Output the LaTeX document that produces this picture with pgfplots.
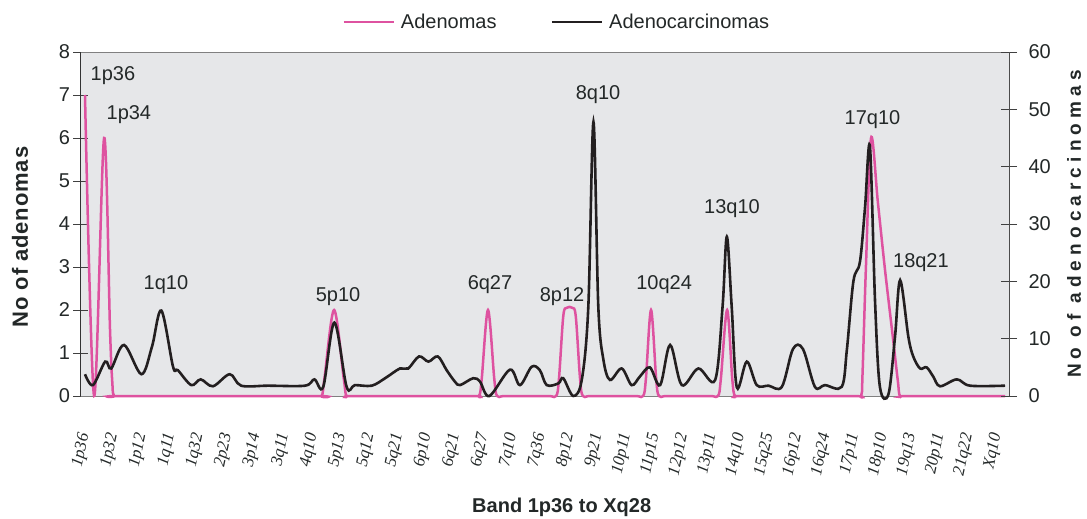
\documentclass[border=0pt]{standalone}
\usepackage{pgfplots}
\pgfplotsset{compat=1.18}
\usepackage{fontspec}
\setmainfont{Liberation Sans}
\newfontfamily\serifit{Liberation Serif}
\definecolor{pinkc}{RGB}{222,82,160}
\definecolor{blk}{RGB}{35,31,32}
\definecolor{bgc}{RGB}{230,231,233}
\definecolor{txt}{RGB}{35,40,40}

\pgfplotstableread{
x y
0 7
0.32 0
0.67 6
0.88 1.5
0.96 0.3
1.02 0
1.32 0
8.00 0
8.30 0
8.40 0.4
8.74 2
9.08 0.4
9.18 0
9.48 0
13.52 0
13.82 0
13.92 0.4
14.14 2
14.36 0.4
14.46 0
14.76 0
16.23 0
16.53 0
16.63 0.4
16.78 1.85
16.90 2.05
17.10 2.05
17.22 1.85
17.37 0.4
17.47 0
17.77 0
19.28 0
19.58 0
19.68 0.4
19.86 2
20.04 0.4
20.14 0
20.44 0
21.91 0
22.21 0
22.31 0.4
22.53 2
22.71 0.4
22.81 0
23.11 0
26.93 0
27.23 0
27.28 0.5
27.40 3
27.58 6
27.82 4.5
28.07 2.93
28.33 1.45
28.52 0.35
28.60 0
28.90 0
32.28 0
}\adenomas

\pgfplotstableread{
x y
0 3.8
0.28 1.9
0.71 6.0
0.92 4.8
1.37 8.9
1.98 3.8
2.35 8.6
2.68 14.9
3.09 5.1
3.26 4.5
3.73 1.9
4.06 2.9
4.49 1.7
5.08 3.8
5.48 1.8
6.42 1.8
7.72 1.8
8.05 2.9
8.36 1.6
8.75 12.8
9.18 1.6
9.47 1.9
10.06 1.8
10.53 3.1
11.05 4.8
11.34 4.8
11.72 6.9
12.05 6.0
12.38 6.9
12.69 4.5
12.98 2.5
13.16 1.9
13.62 3.1
13.86 2.5
14.19 0
14.91 4.6
15.26 1.9
15.67 5.1
15.96 4.5
16.20 1.9
16.61 2.2
16.78 3.1
17.13 0
17.43 2.8
17.66 15.6
17.84 47.8
18.01 15.6
18.19 6.3
18.42 2.8
18.83 4.8
19.18 1.9
19.47 3.4
19.82 5.0
20.18 1.9
20.53 8.9
20.94 1.9
21.52 4.8
22.11 2.8
22.37 15.6
22.52 27.8
22.69 15.6
22.87 1.5
23.22 6.0
23.57 1.9
23.98 1.8
24.45 1.6
24.84 8.2
25.19 8.2
25.61 1.6
25.96 1.9
26.55 1.6
26.73 8.0
26.96 20.0
27.19 23.4
27.37 33.0
27.54 43.5
27.72 16.5
27.89 1.6
28.19 0.3
28.42 10.3
28.60 20.2
28.89 10.3
29.06 6.9
29.30 4.8
29.53 5.0
29.76 3.4
30.00 1.7
30.59 2.9
31.05 1.8
32.28 1.8
}\adenocarcinomas

\begin{document}
\begin{tikzpicture}
\useasboundingbox (-81pt,-123pt) rectangle (1006pt,396pt);
\begin{axis}[
  at={(0pt,0pt)}, anchor=south west,
  scale only axis, width=928pt, height=344pt,
  xmin=-0.14, xmax=32.42, ymin=0, ymax=8,
  clip=false,
  axis x line*=box, axis y line*=left,
  axis background/.style={fill=bgc},
  x axis line style={draw=black!50, line width=1pt},
  y axis line style={draw=black!80, line width=1pt},
  xtick={0,...,32},
  xticklabels={1p36,1p32,1p12,1q11,1q32,2p23,3p14,3q11,4q10,5p13,5q12,5q21,6p10,6q21,6q27,7q10,7q36,8p12,9p21,10p11,11p15,12p12,13p11,14q10,15q25,16p12,16q24,17p11,18p10,19q13,20p11,21q22,Xq10},
  xtick style={draw=none},
  xticklabel style={font=\serifit\itshape\fontsize{17}{17}\selectfont, text=txt, yshift=-30pt, rotate=78, anchor=east, inner sep=0pt},
  ytick={0,...,8},
  ytick style={draw=black!75, line width=0.8pt},
  tick align=center, major tick length=15pt,
  yticklabel style={font=\fontsize{20}{20}\selectfont, text=txt},
  /pgf/number format/assume math mode=true,
  xlabel={Band 1p36 to Xq28},
  xlabel style={at={(axis description cs:0.518,-0.323)}, anchor=center, font=\bfseries\fontsize{20}{20}\selectfont, text=txt},
  ylabel={No of adenomas},
  ylabel style={at={(axis description cs:-0.0657,0.462)}, anchor=center, font=\bfseries\fontsize{22}{22}\selectfont\addfontfeature{LetterSpace=4}, text=txt},
]
\addplot[pinkc, line width=2.5pt, smooth, tension=0.55] table[x=x,y=y] {\adenomas};
\tikzset{ann/.style={font=\fontsize{20}{20}\selectfont, text=txt, inner sep=0pt}}
\node[ann] at (axis cs:0.98,7.45) {1p36};
\node[ann] at (axis cs:1.54,6.55) {1p34};
\node[ann] at (axis cs:2.84,2.6) {1q10};
\node[ann] at (axis cs:8.88,2.32) {5p10};
\node[ann] at (axis cs:14.21,2.6) {6q27};
\node[ann] at (axis cs:16.74,2.32) {8p12};
\node[ann] at (axis cs:18.0,7.0) {8q10};
\node[ann] at (axis cs:20.32,2.58) {10q24};
\node[ann] at (axis cs:22.70,4.35) {13q10};
\node[ann] at (axis cs:27.63,6.42) {17q10};
\node[ann] at (axis cs:29.33,3.11) {18q21};
\end{axis}
\begin{axis}[
  at={(0pt,0pt)}, anchor=south west,
  scale only axis, width=928pt, height=344pt,
  xmin=-0.14, xmax=32.42, ymin=0, ymax=60,
  clip=false,
  hide x axis, axis y line*=right,
  y axis line style={draw=black!70, line width=1pt},
  ytick={0,10,...,60},
  ytick style={draw=black!75, line width=0.8pt},
  tick align=center, major tick length=16pt,
  yticklabel style={font=\fontsize{20}{20}\selectfont, text=txt, xshift=8pt},
  /pgf/number format/assume math mode=true,
  ylabel={No of adenocarcinomas},
  ylabel style={at={(axis description cs:1.070,0.5)}, anchor=center, rotate=0, font=\bfseries\fontsize{19}{19}\selectfont\addfontfeature{LetterSpace=27}, text=txt},
  legend columns=2,
  legend style={draw=none, fill=none, inner sep=0pt, at={(0.2812,1.087)}, anchor=west, font=\fontsize{20}{20}\selectfont, text=txt,
    /tikz/every odd column/.append style={column sep=4pt},
    /tikz/every even column/.append style={column sep=52pt}},
  legend image code/.code={\draw[#1] (0pt,0pt) -- (50pt,0pt);},
]
\addlegendimage{pinkc, line width=2.8pt}
\addlegendentry{Adenomas}
\addplot[blk, line width=2.6pt, smooth, tension=0.55] table[x=x,y=y] {\adenocarcinomas};
\addlegendentry{Adenocarcinomas}
\end{axis}
\end{tikzpicture}
\end{document}
